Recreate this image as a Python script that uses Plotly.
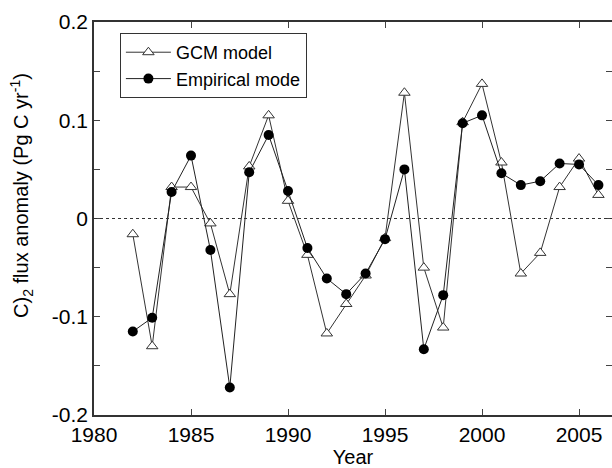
import plotly.graph_objects as go

years = list(range(1982, 2007))
gcm = [-0.016, -0.130, 0.032, 0.032, -0.005, -0.077, 0.053, 0.105, 0.018, -0.037,
       -0.117, -0.087, -0.058, -0.020, 0.128, -0.050, -0.111, 0.098, 0.137, 0.057,
       -0.056, -0.035, 0.032, 0.061, 0.024]
empirical = [-0.115, -0.101, 0.027, 0.064, -0.032, -0.172, 0.047, 0.085, 0.028, -0.030,
             -0.061, -0.077, -0.056, -0.021, 0.050, -0.133, -0.078, 0.097, 0.105, 0.046,
             0.034, 0.038, 0.056, 0.055, 0.034]
xticks = [1980, 1985, 1990, 1995, 2000, 2005]
yticks = [-0.2, -0.1, 0, 0.1, 0.2]
yticklabels = ["-0.2", "-0.1", "0", "0.1", "0.2"]
ytitle = "C)<sub>2</sub> flux anomaly (Pg C yr<sup>-1</sup>)"
xtitle = "Year"

fig = go.Figure()
fig.add_trace(go.Scatter(
    x=years, y=gcm, name="GCM model", mode="lines+markers",
    line=dict(color="#333333", width=1),
    marker=dict(symbol="triangle-up", size=10, color="white",
                line=dict(color="#333333", width=1)),
))
fig.add_trace(go.Scatter(
    x=years, y=empirical, name="Empirical mode", mode="lines+markers",
    line=dict(color="#222222", width=1),
    marker=dict(symbol="circle", size=10, color="black",
                line=dict(color="black", width=0)),
))
# empty helper trace so the right-hand tick axis is drawn
fig.add_trace(go.Scatter(x=[], y=[], yaxis="y2", showlegend=False, hoverinfo="skip"))
fig.add_hline(y=0, line=dict(color="#333333", width=1, dash="dot"))

font = "Liberation Sans, Arial, sans-serif"
fig.add_annotation(text=ytitle, xref="paper", yref="paper", x=-0.139, y=0.56,
                   textangle=-90, showarrow=False, xanchor="center", yanchor="middle",
                   font=dict(size=20, family=font, color="black"))
fig.update_layout(
    width=612, height=468,
    margin=dict(l=94, r=0, t=22, b=53),
    paper_bgcolor="white", plot_bgcolor="white",
    font=dict(family=font, size=21, color="black"),
    showlegend=True,
    legend=dict(x=0.05, y=0.972, xanchor="left", yanchor="top",
                bordercolor="#333333", borderwidth=1, bgcolor="white",
                font=dict(size=18), tracegroupgap=0, itemwidth=45),
    xaxis=dict(range=[1980, 2006.7], tickvals=xticks, ticks="inside", ticklen=6,
               showline=True, linecolor="#333333", linewidth=1.5, mirror="ticks",
               showgrid=False, zeroline=False, automargin=False,
               title=dict(text=xtitle, font=dict(size=20), standoff=0)),
    yaxis=dict(range=[-0.2, 0.2], tickvals=yticks, ticktext=yticklabels,
               ticks="inside", ticklen=6,
               minor=dict(ticks="inside", ticklen=6, dtick=0.05, tick0=0.05, showgrid=False),
               showline=True, linecolor="#333333", linewidth=1.5, mirror=False,
               showgrid=False, zeroline=False, automargin=False),
    yaxis2=dict(range=[-0.2, 0.2], overlaying="y", side="right", tickvals=yticks,
                ticks="inside", ticklen=6, showticklabels=False,
                minor=dict(ticks="inside", ticklen=6, dtick=0.05, tick0=0.05, showgrid=False),
                showline=False, showgrid=False, zeroline=False, automargin=False),
)
fig.write_html("out.html", config={"displayModeBar": False},
               post_script="document.body.style.margin='0';")
